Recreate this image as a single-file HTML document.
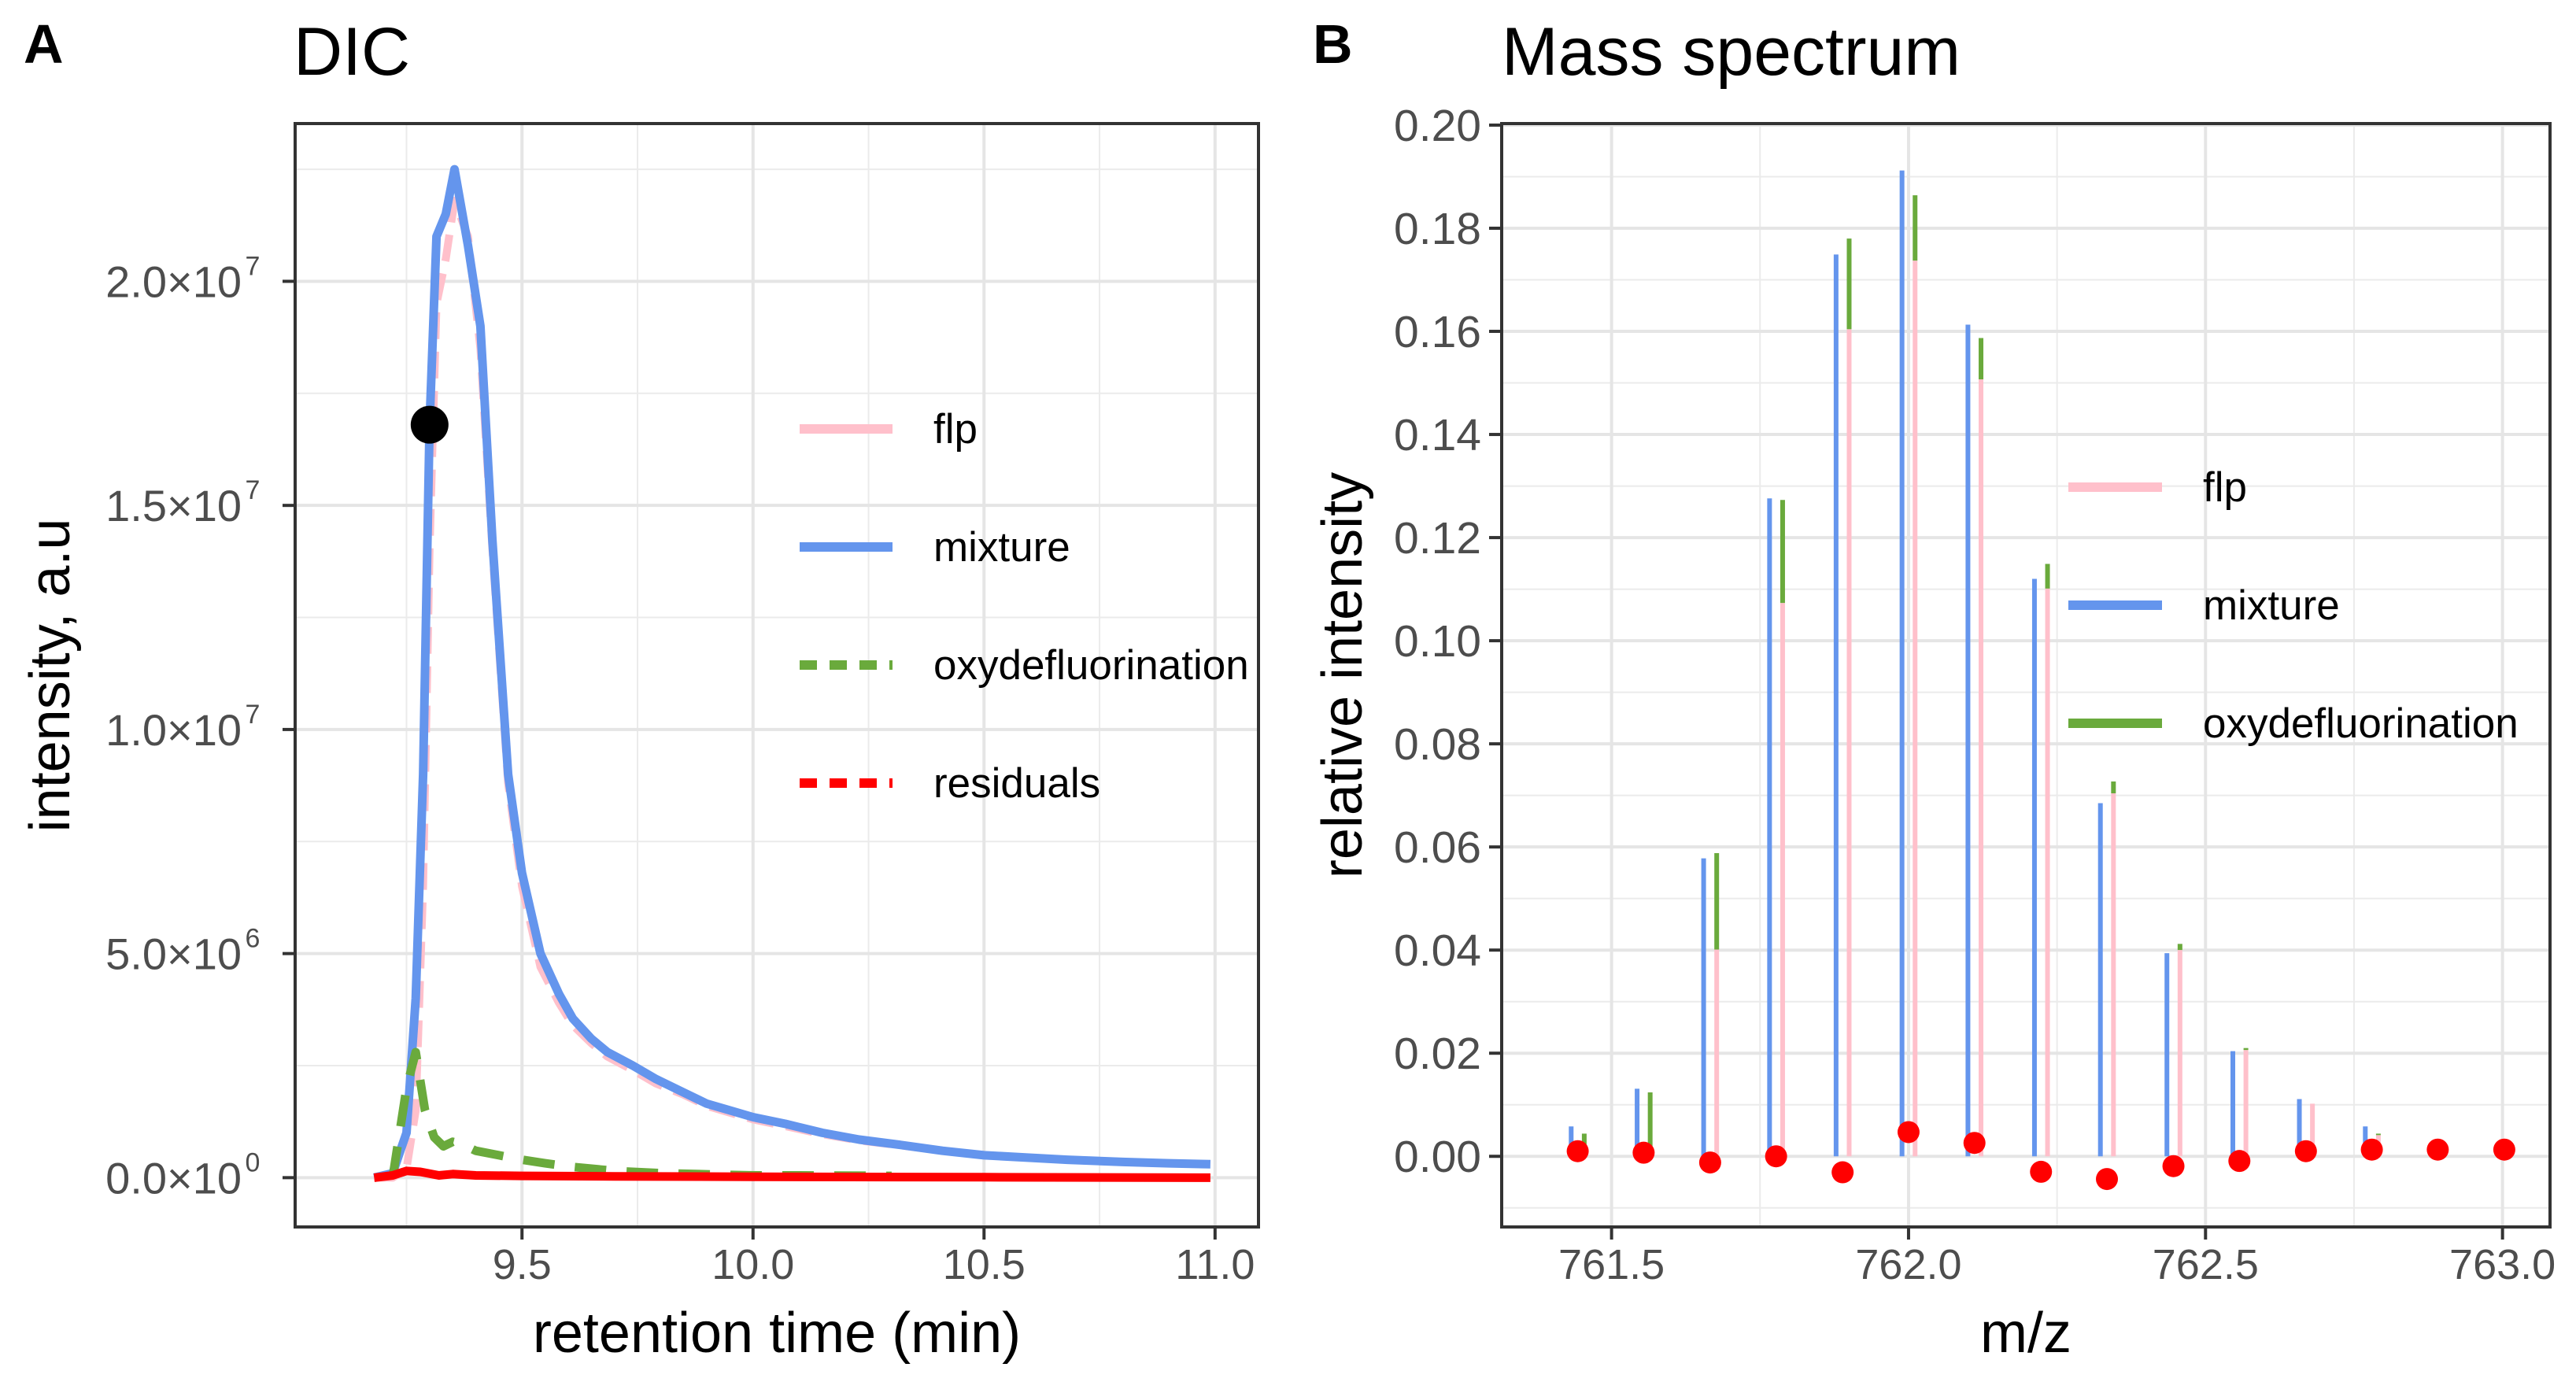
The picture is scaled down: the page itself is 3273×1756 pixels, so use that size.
<!DOCTYPE html>
<html><head><meta charset="utf-8">
<style>
html,body{margin:0;padding:0;background:#fff;}
svg{display:block;font-family:"Liberation Sans",Arial,sans-serif;}
</style></head>
<body>
<svg id="fig" width="3273" height="1756" viewBox="0 0 3273 1756" xmlns="http://www.w3.org/2000/svg">
<rect width="3273" height="1756" fill="#fff"/>
<g id="panelA"></g>
<g id="panelB"></g>
</svg>
<script>
// ---------- Panel A data ----------
const dicTime = [9.18,9.22,9.25,9.27,9.286,9.30,9.315,9.335,9.354,9.383,9.41,9.436,9.47,9.50,9.54,9.58,9.61,9.65,9.685,9.74,9.79,9.85,9.9,9.95,10.0,10.07,10.15,10.23,10.32,10.41,10.5,10.59,10.68,10.8,10.9,10.99];
const dicMixture = [0,0.1e6,1.0e6,4.0e6,9.0e6,1.68e7,2.1e7,2.15e7,2.25e7,2.08e7,1.9e7,1.42e7,9.0e6,6.8e6,5.0e6,4.1e6,3.55e6,3.1e6,2.8e6,2.5e6,2.2e6,1.9e6,1.65e6,1.5e6,1.35e6,1.2e6,1.0e6,0.85e6,0.73e6,0.6e6,0.5e6,0.45e6,0.4e6,0.35e6,0.32e6,0.3e6];
const dicFlp = [0,0,0.2e6,1.5e6,6.5e6,1.4e7,1.95e7,2.05e7,2.18e7,2.1e7,1.85e7,1.4e7,8.8e6,6.5e6,4.7e6,3.9e6,3.4e6,3.0e6,2.7e6,2.4e6,2.1e6,1.85e6,1.6e6,1.45e6,1.3e6,1.15e6,0.97e6,0.83e6,0.72e6,0.6e6,0.5e6,0.45e6,0.4e6,0.35e6,0.32e6,0.3e6];
const dicOxyTime = [9.22,9.25,9.27,9.29,9.31,9.33,9.35,9.37,9.4,9.45,9.5,9.55,9.6,9.7,9.8,10.0,10.1,10.3];
const dicOxy = [0,2.0e6,2.8e6,1.5e6,0.9e6,0.7e6,0.8e6,0.75e6,0.6e6,0.5e6,0.4e6,0.32e6,0.25e6,0.15e6,0.1e6,0.05e6,0.05e6,0.04e6];
const dicResTime = [9.18,9.22,9.25,9.28,9.32,9.35,9.4,9.5,9.7,10.0,10.5,10.99];
const dicRes = [0,0.05e6,0.15e6,0.13e6,0.05e6,0.08e6,0.05e6,0.04e6,0.03e6,0.02e6,0.01e6,0.0];
const dicPoint = [9.30, 1.68e7];
const aXTicks = [9.5,10.0,10.5,11.0];
const aXTickLabels = ["9.5","10.0","10.5","11.0"];
const aYTicks = [0,5e6,1e7,1.5e7,2e7];
const aYTickMant = ["0.0","5.0","1.0","1.5","2.0"];
const aYTickExp = ["0","6","7","7","7"];

// ---------- Panel B data ----------
const mzPeaks = [761.443,761.554,761.666,761.777,761.889,762.0,762.111,762.223,762.334,762.446,762.557,762.669,762.780,762.891,763.003];
const mixtureVals = [0.0058,0.0131,0.0578,0.1276,0.1749,0.1912,0.1613,0.1120,0.0685,0.0394,0.0204,0.0111,0.0058,0,0];
const flpVals = [0.0018,0.0018,0.0401,0.1073,0.1604,0.1737,0.1507,0.1101,0.0704,0.0400,0.0206,0.0102,0.0041,0,0];
const oxyTopVals = [0.0044,0.0124,0.0588,0.1273,0.1780,0.1864,0.1587,0.1149,0.0727,0.0412,0.0210,0.0102,0.0044,0,0];
const residualVals = [0.0010,0.0007,-0.0012,0.0000,-0.0031,0.0047,0.0026,-0.0030,-0.0044,-0.0019,-0.0009,0.0010,0.0013,0.0013,0.0013];
const bXTicks = [761.5,762.0,762.5,763.0];
const bXTickLabels = ["761.5","762.0","762.5","763.0"];
const bYTicks = [0,0.02,0.04,0.06,0.08,0.10,0.12,0.14,0.16,0.18,0.20];
const bYTickLabels = ["0.00","0.02","0.04","0.06","0.08","0.10","0.12","0.14","0.16","0.18","0.20"];

const NS = "http://www.w3.org/2000/svg";
function mk(tag, attrs, parent){ const e=document.createElementNS(NS,tag); for(const k in attrs) e.setAttribute(k,attrs[k]); parent.appendChild(e); return e; }

// ---------- Panel A ----------
(function(){
  const g = document.getElementById('panelA');
  const L=375,R=1599,T=157,B=1559;
  const xd=[9.009,11.094], yd=[-1.1e6,23.52e6];
  const X=v=>L+(v-xd[0])/(xd[1]-xd[0])*(R-L);
  const Y=v=>B-(v-yd[0])/(yd[1]-yd[0])*(B-T);
  [9.25,9.75,10.25,10.75].forEach(v=>{const l=mk('line',{x1:X(v),x2:X(v),y1:T,y2:B,stroke:'#ebebeb','stroke-width':2},g);  });
  [2.5e6,7.5e6,1.25e7,1.75e7,2.25e7].forEach(v=>{const l=mk('line',{x1:L,x2:R,y1:Y(v),y2:Y(v),stroke:'#ebebeb','stroke-width':2},g);  });
  aXTicks.forEach(v=>{const l=mk('line',{x1:X(v),x2:X(v),y1:T,y2:B,stroke:'#e5e5e5','stroke-width':4},g);  });
  aYTicks.forEach(v=>{const l=mk('line',{x1:L,x2:R,y1:Y(v),y2:Y(v),stroke:'#e5e5e5','stroke-width':4},g);  });
  function path(xs,ys,color,w,dash,name){
    const d=xs.map((x,i)=>(i?'L':'M')+X(x).toFixed(1)+','+Y(ys[i]).toFixed(1)).join('');
    const p=mk('path',{d:d,fill:'none',stroke:color,'stroke-width':w,'stroke-linejoin':'round'},g);
    if(dash) p.setAttribute('stroke-dasharray',dash);
     
  }
  path(dicTime,dicFlp,'#ffc0cb',10,'34,16','flp-line');
  path(dicTime,dicMixture,'#6495ed',11,null,'mixture-line');
  path(dicOxyTime,dicOxy,'#6aaa3c',11,'40,26','oxydefluorination-line');
  path(dicResTime,dicRes,'#ff0000',11,null,'residuals-line');
  const c=mk('circle',{cx:X(dicPoint[0]),cy:Y(dicPoint[1]),r:24,fill:'#000'},g);
   
  const bd=mk('rect',{x:L,y:T,width:R-L,height:B-T,fill:'none',stroke:'#333','stroke-width':4},g);
   
  aXTicks.forEach((v,i)=>{
    const t=mk('line',{x1:X(v),x2:X(v),y1:B,y2:B+16,stroke:'#333','stroke-width':4},g);  
    const tx=mk('text',{x:X(v),y:B+66,'font-size':54,fill:'#4d4d4d','text-anchor':'middle'},g); tx.textContent=aXTickLabels[i];  
  });
  aYTicks.forEach((v,i)=>{
    const t=mk('line',{x1:L-16,x2:L,y1:Y(v),y2:Y(v),stroke:'#333','stroke-width':4},g);  
    const tx=mk('text',{x:L-68,y:Y(v)+20,'font-size':56,fill:'#4d4d4d','text-anchor':'end'},g);
    tx.textContent=aYTickMant[i]+'×10';  
    const ex=mk('text',{x:L-54,y:Y(v)-8,'font-size':34,fill:'#4d4d4d','text-anchor':'middle'},g); ex.textContent=aYTickExp[i];  
  });
  let t=mk('text',{x:(L+R)/2,y:1718,'font-size':72,fill:'#000','text-anchor':'middle'},g); t.textContent='retention time (min)';  
  t=mk('text',{x:0,y:0,'font-size':72,fill:'#000','text-anchor':'middle',transform:'translate(88,'+((T+B)/2)+') rotate(-90)'},g); t.textContent='intensity, a.u';  
  t=mk('text',{x:30,y:80,'font-size':70,'font-weight':'bold',fill:'#000'},g); t.textContent='A';  
  t=mk('text',{x:373,y:95,'font-size':86,fill:'#000'},g); t.textContent='DIC';  
  const leg=[['flp','#ffc0cb',null],['mixture','#6495ed',null],['oxydefluorination','#6aaa3c','22,16'],['residuals','#ff0000','22,16']];
  const lg=mk('g',{},g);  
  leg.forEach((e,i)=>{
    const y=545+i*150;
    const l=mk('line',{x1:1016,x2:1134,y1:y,y2:y,stroke:e[1],'stroke-width':12},lg); if(e[2]) l.setAttribute('stroke-dasharray',e[2]);
     
    const tx=mk('text',{x:1186,y:y+18,'font-size':53,fill:'#000'},lg); tx.textContent=e[0];  
  });
})();

// ---------- Panel B ----------
(function(){
  const g=document.getElementById('panelB');
  const L=1908,R=3240,T=157,B=1559;
  const xd=[761.315,763.080], yd=[-0.0137,0.2003];
  const X=v=>L+(v-xd[0])/(xd[1]-xd[0])*(R-L);
  const Y=v=>B-(v-yd[0])/(yd[1]-yd[0])*(B-T);
  [761.25,761.75,762.25,762.75].forEach(v=>{ if(X(v)>L){const l=mk('line',{x1:X(v),x2:X(v),y1:T,y2:B,stroke:'#ebebeb','stroke-width':2},g);  }});
  [-0.01,0.01,0.03,0.05,0.07,0.09,0.11,0.13,0.15,0.17,0.19].forEach(v=>{const l=mk('line',{x1:L,x2:R,y1:Y(v),y2:Y(v),stroke:'#ebebeb','stroke-width':2},g);  });
  bXTicks.forEach(v=>{const l=mk('line',{x1:X(v),x2:X(v),y1:T,y2:B,stroke:'#e5e5e5','stroke-width':4},g);  });
  bYTicks.forEach(v=>{const l=mk('line',{x1:L,x2:R,y1:Y(v),y2:Y(v),stroke:'#e5e5e5','stroke-width':4},g);  });
  const off=0.011;
  mzPeaks.forEach((m,i)=>{
    if(mixtureVals[i]>0){const b=mk('line',{x1:X(m-off),x2:X(m-off),y1:Y(0),y2:Y(mixtureVals[i]),stroke:'#6495ed','stroke-width':6},g);  }
    if(oxyTopVals[i]>0){const b=mk('line',{x1:X(m+off),x2:X(m+off),y1:Y(flpVals[i]),y2:Y(oxyTopVals[i]),stroke:'#6aaa3c','stroke-width':6},g);  }
    if(flpVals[i]>0){const b=mk('line',{x1:X(m+off),x2:X(m+off),y1:Y(0),y2:Y(flpVals[i]),stroke:'#ffc0cb','stroke-width':6},g);  }
  });
  mzPeaks.forEach((m,i)=>{
    const c=mk('circle',{cx:X(m),cy:Y(residualVals[i]),r:14,fill:'#ff0000'},g);  
  });
  const bd=mk('rect',{x:L,y:T,width:R-L,height:B-T,fill:'none',stroke:'#333','stroke-width':4},g);
   
  bXTicks.forEach((v,i)=>{
    const t=mk('line',{x1:X(v),x2:X(v),y1:B,y2:B+16,stroke:'#333','stroke-width':4},g);  
    const tx=mk('text',{x:X(v),y:B+66,'font-size':54,fill:'#4d4d4d','text-anchor':'middle'},g); tx.textContent=bXTickLabels[i];  
  });
  bYTicks.forEach((v,i)=>{
    const t=mk('line',{x1:L-16,x2:L,y1:Y(v),y2:Y(v),stroke:'#333','stroke-width':4},g);  
    const tx=mk('text',{x:L-26,y:Y(v)+20,'font-size':57,fill:'#4d4d4d','text-anchor':'end'},g); tx.textContent=bYTickLabels[i];  
  });
  let t=mk('text',{x:(L+R)/2,y:1718,'font-size':72,fill:'#000','text-anchor':'middle'},g); t.textContent='m/z';  
  t=mk('text',{x:0,y:0,'font-size':72,fill:'#000','text-anchor':'middle',transform:'translate(1730,'+((T+B)/2)+') rotate(-90)'},g); t.textContent='relative intensity';  
  t=mk('text',{x:1668,y:80,'font-size':70,'font-weight':'bold',fill:'#000'},g); t.textContent='B';  
  t=mk('text',{x:1908,y:95,'font-size':86,fill:'#000'},g); t.textContent='Mass spectrum';  
  const leg=[['flp','#ffc0cb'],['mixture','#6495ed'],['oxydefluorination','#6aaa3c']];
  const lg=mk('g',{},g);  
  leg.forEach((e,i)=>{
    const y=619+i*150;
    const l=mk('line',{x1:2628,x2:2747,y1:y,y2:y,stroke:e[1],'stroke-width':12},lg);  
    const tx=mk('text',{x:2799,y:y+18,'font-size':53,fill:'#000'},lg); tx.textContent=e[0];  
  });
})();
</script>
</body></html>
